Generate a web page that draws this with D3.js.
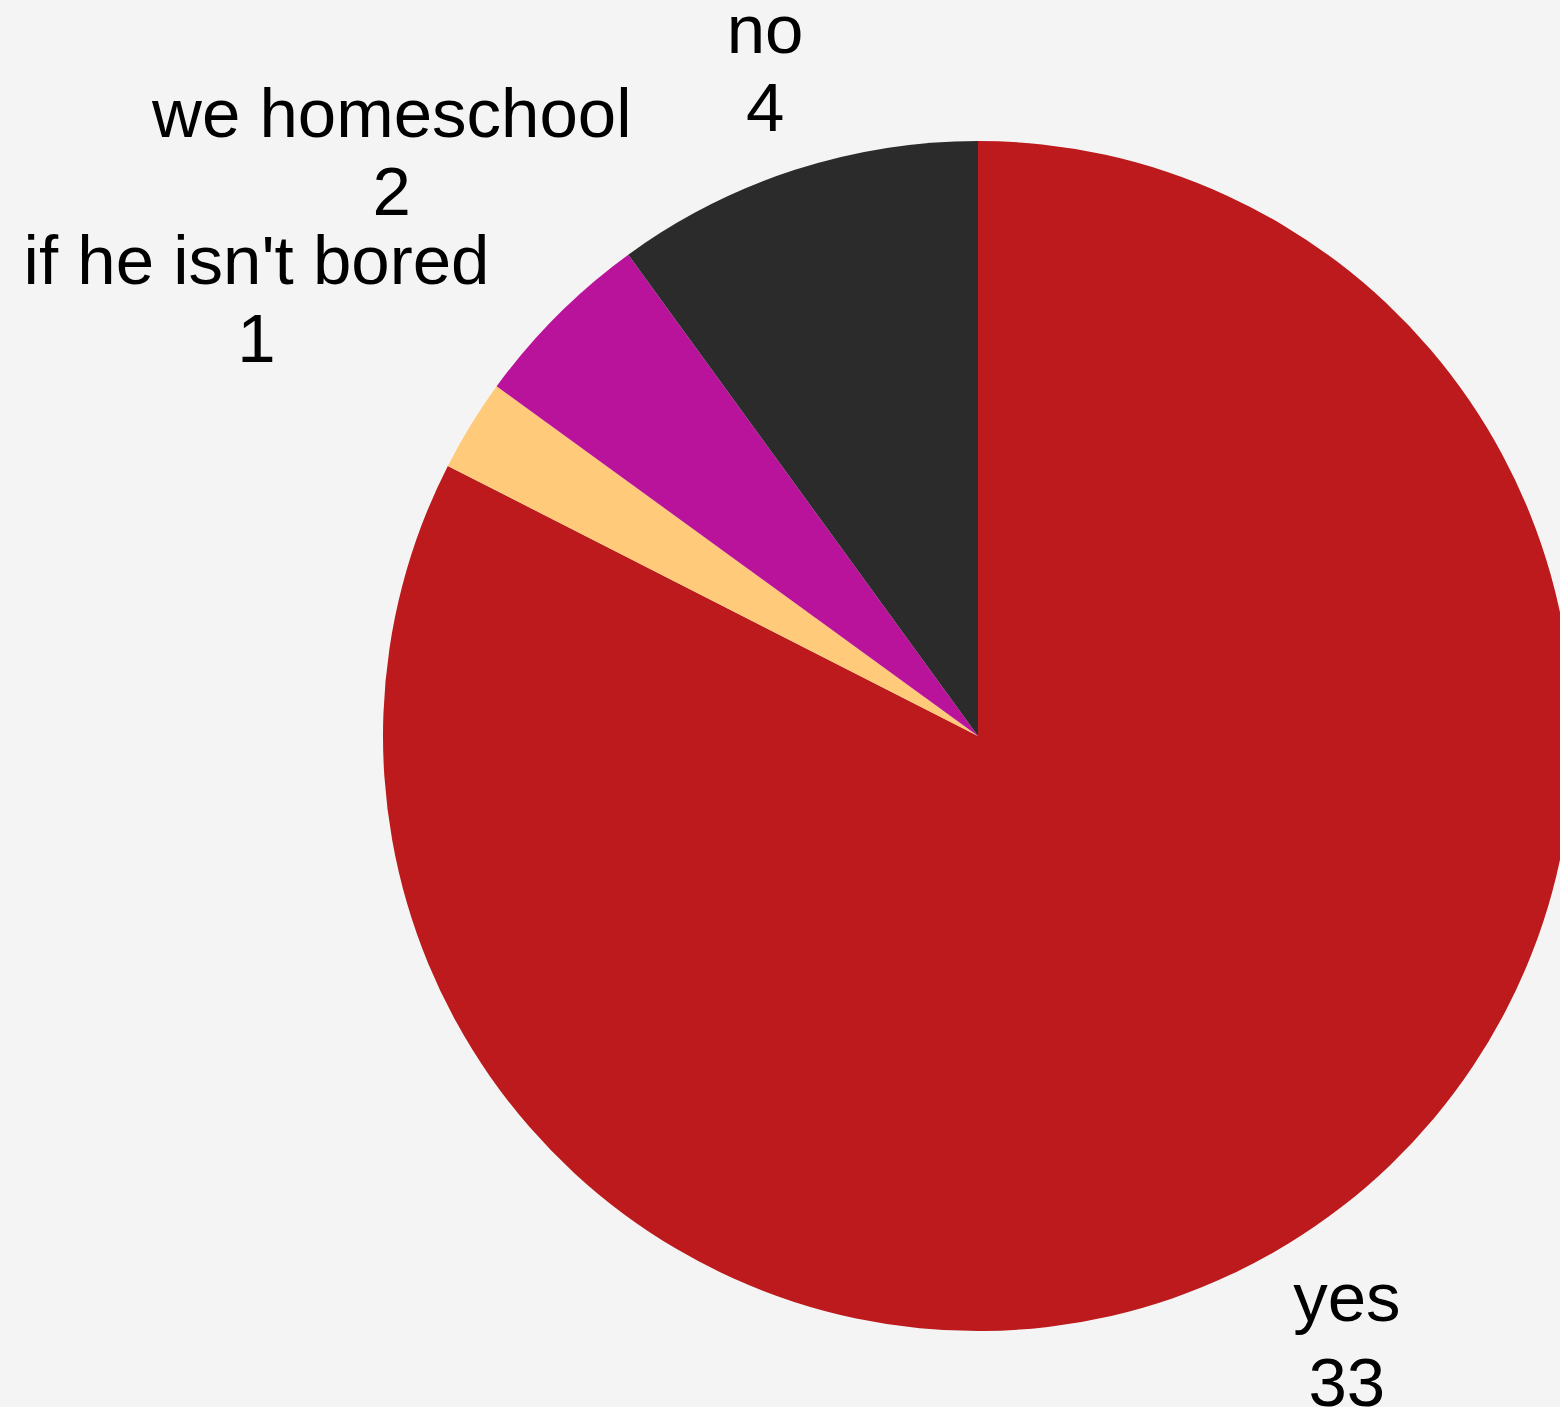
<!DOCTYPE html>
<html>
<head>
<meta charset="utf-8">
<script src="https://cdn.jsdelivr.net/npm/d3@7"></script>
<style>
  html, body { margin: 0; padding: 0; background: #f4f4f4; overflow: hidden; }
  svg { display: block; }
  text { font-family: "Liberation Sans", Arial, sans-serif; fill: #000; }
</style>
</head>
<body>
<svg id="chart" width="1560" height="1407"></svg>
<script>
// Survey answers, in the order the slices run clockwise from 12 o'clock
const categories = ["yes", "if he isn't bored", "we homeschool", "no"];
const counts = [33, 1, 2, 4];
const sliceColors = ["#bc1a1d", "#ffcb7a", "#b9129b", "#2b2b2b"];

const width = 1560, height = 1407;
const cx = 978, cy = 736, radius = 595;
const fontSize = 69;

// How far out along each slice's mid-angle its label sits (multiple of the radius)
const labelReach = { "yes": 1.164, "if he isn't bored": 1.436, "we homeschool": 1.41, "no": 1.196 };
// Distance from the name line down to the count line
const valueGap = { "yes": 85 };
const labelShift = [7, -6];

const svg = d3.select("#chart");
svg.append("rect").attr("width", width).attr("height", height).attr("fill", "#f4f4f4");

const data = categories.map((c, i) => ({ category: c, count: counts[i] }));

const color = d3.scaleOrdinal().domain(categories).range(sliceColors);

const pie = d3.pie().value(d => d.count).sort(null);
const arc = d3.arc().innerRadius(0).outerRadius(radius);

const g = svg.append("g").attr("transform", `translate(${cx},${cy})`);
const arcs = pie(data);

g.selectAll("path.slice")
  .data(arcs)
  .join("path")
  .attr("class", "slice")
  .attr("d", arc)
  .attr("fill", d => color(d.data.category));

const labels = g.selectAll("g.label")
  .data(arcs)
  .join("g")
  .attr("class", "label")
  .attr("transform", d => {
    const mid = (d.startAngle + d.endAngle) / 2;
    const [x, y] = d3.pointRadial(mid, radius * labelReach[d.data.category]);
    return `translate(${x + labelShift[0]},${y + labelShift[1]})`;
  });

labels.append("text")
  .attr("text-anchor", "middle")
  .attr("font-size", fontSize)
  .text(d => d.data.category);

labels.append("text")
  .attr("text-anchor", "middle")
  .attr("font-size", fontSize)
  .attr("y", d => valueGap[d.data.category] || 78)
  .text(d => d.data.count);
</script>
</body>
</html>
